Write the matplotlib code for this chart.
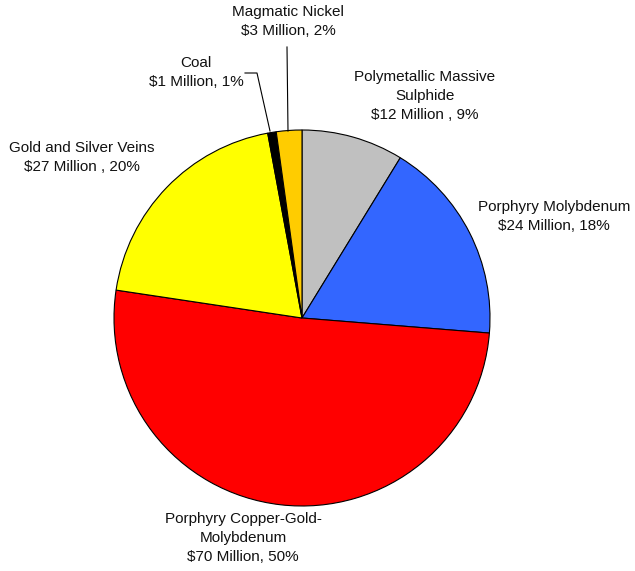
import matplotlib.pyplot as plt

plt.rcParams['font.family'] = ['Liberation Sans', 'DejaVu Sans']

deposits = ['Polymetallic Massive\nSulphide', 'Porphyry Molybdenum',
            'Porphyry Copper-Gold-\nMolybdenum', 'Gold and Silver Veins',
            'Coal', 'Magmatic Nickel']
millions = [12, 24, 70, 27, 1, 3]
value_labels = ['$12 Million , 9%', '$24 Million, 18%', '$70 Million, 50%',
                '$27 Million , 20%', '$1 Million, 1%', '$3 Million, 2%']
colors = ['#C0C0C0', '#3366FF', '#FF0000', '#FFFF00', '#000000', '#FFCC00']

W, H = 635, 571
fig = plt.figure(figsize=(W / 100, H / 100), dpi=100)
ax = fig.add_axes([0, 0, 1, 1])

cx, cy, r = 302, H - 318, 188
ax.pie(millions, colors=colors, startangle=90, counterclock=False,
       center=(cx, cy), radius=r, frame=True,
       wedgeprops=dict(edgecolor='black', linewidth=0.8))
ax.set_xlim(0, W)
ax.set_ylim(0, H)
ax.axis('off')

# label positions in pixel coords (x centre, y of first line top)
label_pos = [(425, 70), (554, 200), (243, 512), (82, 141), (196, 56), (288, 5)]
for name, val, (x, y) in zip(deposits, value_labels, label_pos):
    ax.text(x, H - y, name + '\n' + val, ha='center', va='top',
            fontsize=11, linespacing=1.45, color='#111111')

# leader lines for the small slices
ax.plot([245, 257, 270], [H - 73, H - 73, H - 131], color='black', lw=0.8)
ax.plot([287, 288], [H - 47, H - 131], color='black', lw=0.8)

fig.savefig('out.png', dpi=100)
